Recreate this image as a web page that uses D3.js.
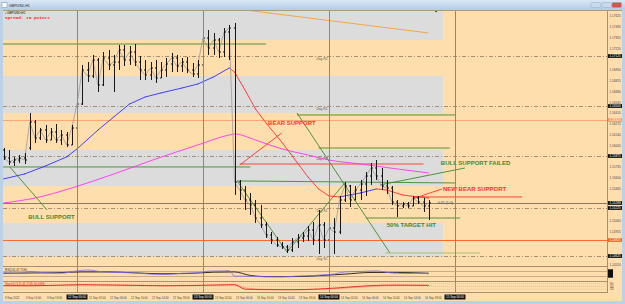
<!DOCTYPE html>
<html>
<head>
<meta charset="utf-8">
<script src="https://cdn.jsdelivr.net/npm/d3@7"></script>
<style>
  body { margin: 0; background: #FFDEAD; overflow: hidden; }
  svg { display: block; font-family: "Liberation Sans", Arial, sans-serif; }
</style>
</head>
<body>
<svg width="625" height="304"></svg>
<script>
// GBPUSD H1 bars, one per hour
const opens = [
  1.15950, 1.15850, 1.15800, 1.15825, 1.15850, 1.15975, 1.16300, 1.16100, 1.16200, 1.16075,
  1.16175, 1.16075, 1.16138, 1.16013, 1.16225, 1.16525, 1.16950, 1.16875, 1.17075, 1.16763,
  1.17100, 1.17013, 1.17050, 1.17200, 1.17075, 1.17175, 1.17050, 1.16950, 1.16888, 1.16975,
  1.16850, 1.16950, 1.17025, 1.17100, 1.17000, 1.17050, 1.16950, 1.16900, 1.17013, 1.17350,
  1.17225, 1.17325, 1.17175, 1.17425, 1.17475, 1.15550, 1.15450, 1.15325, 1.15263, 1.15100,
  1.15013, 1.14888, 1.14825, 1.14763, 1.14738, 1.14700, 1.14800, 1.14850, 1.14875, 1.14950,
  1.14825, 1.15013, 1.14825, 1.14975, 1.14925, 1.15325, 1.15500, 1.15325, 1.15450, 1.15525,
  1.15625, 1.15725, 1.15625, 1.15500, 1.15475, 1.15300, 1.15250, 1.15275, 1.15250, 1.15350,
  1.15300, 1.15250
];
const highs = [
  1.15975, 1.15950, 1.15863, 1.15888, 1.15913, 1.16413, 1.16325, 1.16225, 1.16263, 1.16225,
  1.16275, 1.16200, 1.16175, 1.16263, 1.16575, 1.17013, 1.17050, 1.17138, 1.17100, 1.17175,
  1.17200, 1.17138, 1.17263, 1.17263, 1.17250, 1.17275, 1.17125, 1.17075, 1.17050, 1.17075,
  1.17050, 1.17100, 1.17163, 1.17138, 1.17100, 1.17113, 1.17038, 1.17075, 1.17413, 1.17450,
  1.17413, 1.17350, 1.17475, 1.17513, 1.17538, 1.15575, 1.15500, 1.15413, 1.15325, 1.15263,
  1.15050, 1.14925, 1.14863, 1.14800, 1.14763, 1.14850, 1.14900, 1.14925, 1.15000, 1.15050,
  1.15200, 1.15050, 1.15075, 1.15100, 1.15375, 1.15550, 1.15513, 1.15500, 1.15575, 1.15675,
  1.15788, 1.15825, 1.15725, 1.15575, 1.15500, 1.15325, 1.15300, 1.15300, 1.15375, 1.15375,
  1.15350, 1.15325
];
const lows = [
  1.15825, 1.15763, 1.15750, 1.15788, 1.15775, 1.15950, 1.16038, 1.16075, 1.16038, 1.16075,
  1.16038, 1.16013, 1.15988, 1.16013, 1.16075, 1.16513, 1.16800, 1.16850, 1.16675, 1.16750,
  1.16950, 1.16675, 1.16950, 1.17000, 1.17013, 1.17000, 1.16825, 1.16825, 1.16825, 1.16788,
  1.16850, 1.16863, 1.16925, 1.16925, 1.16925, 1.16913, 1.16863, 1.16850, 1.16925, 1.17138,
  1.17138, 1.17100, 1.17113, 1.17075, 1.15388, 1.15325, 1.15200, 1.15138, 1.15038, 1.14975,
  1.14850, 1.14775, 1.14738, 1.14713, 1.14663, 1.14675, 1.14725, 1.14800, 1.14813, 1.14763,
  1.14650, 1.14725, 1.14700, 1.14650, 1.14900, 1.15300, 1.15238, 1.15325, 1.15325, 1.15375,
  1.15513, 1.15575, 1.15450, 1.15400, 1.15263, 1.15113, 1.15225, 1.15225, 1.15250, 1.15275,
  1.15175, 1.15075
];
const closes = [
  1.15850, 1.15800, 1.15825, 1.15850, 1.15825, 1.16300, 1.16100, 1.16200, 1.16075, 1.16175,
  1.16075, 1.16138, 1.16013, 1.16225, 1.16525, 1.16950, 1.16875, 1.17075, 1.16763, 1.17100,
  1.17013, 1.17050, 1.17200, 1.17075, 1.17175, 1.17050, 1.16950, 1.16888, 1.16975, 1.16850,
  1.16950, 1.17025, 1.17100, 1.17000, 1.17050, 1.16950, 1.16900, 1.17013, 1.17350, 1.17225,
  1.17325, 1.17175, 1.17425, 1.17475, 1.15550, 1.15450, 1.15325, 1.15263, 1.15100, 1.15013,
  1.14888, 1.14825, 1.14763, 1.14738, 1.14700, 1.14800, 1.14850, 1.14875, 1.14950, 1.14825,
  1.15013, 1.14825, 1.14975, 1.14925, 1.15325, 1.15500, 1.15325, 1.15450, 1.15525, 1.15625,
  1.15725, 1.15625, 1.15500, 1.15475, 1.15300, 1.15250, 1.15275, 1.15250, 1.15350, 1.15300,
  1.15250, 1.15288
];

// moving averages (bar index, price)
const maFastIdx = [0, 4, 8, 12, 14, 18, 21, 24, 27, 30, 34, 37, 40, 43, 44, 46, 48, 50, 53, 56, 58, 60, 62, 64, 66, 68, 71, 73, 76, 79, 81];
const maFastVal = [1.15588, 1.15650, 1.15750, 1.15863, 1.15963, 1.16200, 1.16363, 1.16525, 1.16613, 1.16663, 1.16725, 1.16775, 1.16863, 1.16975, 1.16925, 1.16700, 1.16463, 1.16288, 1.16050, 1.15788, 1.15613, 1.15463, 1.15375, 1.15363, 1.15388, 1.15413, 1.15463, 1.15450, 1.15388, 1.15363, 1.15350];
const maSlowIdx = [0, 6, 13, 21, 29, 37, 43, 44, 48, 53, 58, 62, 68, 75, 81];
const maSlowVal = [1.15288, 1.15350, 1.15475, 1.15650, 1.15838, 1.16013, 1.16138, 1.16150, 1.16075, 1.15963, 1.15888, 1.15825, 1.15775, 1.15713, 1.15663];

// grey price zones
const zoneTops = [1.17750, 1.16875, 1.15950, 1.15038];
const zoneBottoms = [1.17325, 1.16413, 1.15500, 1.14613];
const zoneEndIdx = 83.7;

// daily pivots
const pivotNames = ['Day R2', 'Day R1', 'Day PP', 'Day S1', 'Day S2'];
const pivotPrices = [1.17125, 1.16500, 1.15875, 1.15225, 1.14625];
const orangeLevels = [1.16325, 1.14825];

// drawn objects: [startIdx, startPrice, endIdx, endPrice, kind]
const trendLines = [
  [46.0, 1.17700, 80.9, 1.17413, 'trend'],
  [-1, 1.17275, 50.0, 1.17275, 'bull'],
  [-1, 1.15738, 47.0, 1.15738, 'bull'],
  [1.2, 1.15738, 8.3, 1.15200, 'bull'],
  [55.9, 1.16413, 73.6, 1.14663, 'bull'],
  [44.5, 1.15563, 54.0, 1.14675, 'bull'],
  [54.0, 1.14675, 65.0, 1.15538, 'bull'],
  [44.5, 1.15563, 86.0, 1.15538, 'bull'],
  [55.9, 1.16388, 86.0, 1.16388, 'bull'],
  [60.0, 1.15975, 85.0, 1.15975, 'bull'],
  [71.7, 1.15513, 87.9, 1.15725, 'bull'],
  [69.0, 1.15100, 87.0, 1.15100, 'bull'],
  [72.7, 1.14663, 90.8, 1.14663, 'target'],
  [45.0, 1.15763, 53.0, 1.16163, 'bear'],
  [45.0, 1.15775, 80.0, 1.15775, 'bear'],
  [78.4, 1.15350, 83.5, 1.15463, 'bear'],
  [78.0, 1.15363, 98.8, 1.15363, 'bear']
];
const noteTexts = ['BULL SUPPORT', 'BEAR SUPPORT', 'BULL SUPPORT FAILED', 'NEW BEAR SUPPORT', '50% TARGET HIT'];
const noteIdx = [4.7, 50.4, 83.3, 83.7, 73.0];
const notePrices = [1.15088, 1.16263, 1.15763, 1.15438, 1.14988];
const noteKinds = ['bull', 'bear', 'bull', 'bear', 'bull'];

const vLineIdx = [14, 38, 62, 86];
const vLineText = ['12 Sep 00:00', '13 Sep 00:00', '14 Sep 00:00', '15 Sep 00:00'];

// lower windows
const rsiIdx = [0, 3, 5, 8, 11, 14, 16, 19, 22, 25, 28, 31, 34, 37, 39, 42, 43, 44, 47, 50, 53, 56, 59, 61, 63, 65, 68, 71, 74, 77, 79, 81];
const rsiVal = [56, 50, 66, 55, 52, 70, 77, 62, 58, 55, 45, 42, 52, 55, 68, 70, 72, 30, 28, 25, 24, 30, 34, 40, 46, 62, 66, 70, 54, 50, 52, 48];
const sigIdx = [0, 5, 10, 15, 20, 25, 30, 35, 40, 44, 47, 50, 55, 60, 65, 70, 75, 81];
const sigVal = [52, 54, 56, 62, 62, 55, 48, 50, 60, 62, 35, 26, 26, 33, 45, 58, 58, 52];
const stochIdx = [0, 5, 10, 15, 20, 25, 30, 35, 40, 44, 46, 50, 55, 60, 65, 70, 75, 81];
const stochMain = [60, 58, 64, 70, 66, 62, 58, 60, 66, 70, 20, 15, 14, 22, 40, 60, 66, 62];
const stochSignal = [58, 60, 62, 66, 68, 64, 60, 60, 63, 68, 35, 18, 15, 18, 32, 50, 62, 64];

const priceTicks = [1.17625, 1.17490, 1.17355, 1.17220, 1.17085, 1.16950, 1.16815, 1.16680, 1.16545, 1.16410, 1.16275, 1.16140,
  1.16005, 1.15870, 1.15735, 1.15600, 1.15465, 1.15330, 1.15195, 1.15060, 1.14925, 1.14790, 1.14655, 1.14520];
const timeTickIdx = [0, 4, 8, 16, 20, 24, 28, 32, 40, 44, 48, 52, 56, 64, 68, 72, 76, 80];
const timeTickText = ['9 Sep 2022', '9 Sep 14:00', '9 Sep 18:00', '12 Sep 02:00', '12 Sep 06:00', '12 Sep 10:00', '12 Sep 14:00',
  '12 Sep 18:00', '13 Sep 02:00', '13 Sep 06:00', '13 Sep 10:00', '13 Sep 14:00', '13 Sep 18:00', '14 Sep 02:00',
  '14 Sep 06:00', '14 Sep 10:00', '14 Sep 14:00', '14 Sep 18:00'];

const svg = d3.select('svg');
const colors = { bull: '#3f8a2c', bear: '#ff3326', target: '#9bbf6a', trend: '#f5a030' };

const x = d3.scaleLinear().domain([0, 115]).range([3.5, 607.25]);
const y = d3.scaleLinear().domain([1.1450, 1.1770]).range([266, 10]);
const yRsi = d3.scaleLinear().domain([0, 100]).range([280, 267]);
const yStoch = d3.scaleLinear().domain([0, 100]).range([291, 282]);

svg.append('rect').attr('width', 625).attr('height', 304).attr('fill', '#FFDEAD');

svg.append('clipPath').attr('id', 'main')
  .append('rect').attr('x', 3).attr('y', 10).attr('width', 604).attr('height', 256);
const main = svg.append('g').attr('clip-path', 'url(#main)');

// zones
main.selectAll('.zone').data(zoneTops).join('rect')
  .attr('x', 3).attr('width', x(zoneEndIdx) - 3)
  .attr('y', d => y(d))
  .attr('height', (d, i) => y(zoneBottoms[i]) - y(d))
  .attr('fill', '#DCDCDC');

// horizontal levels
main.selectAll('.pivot').data(pivotPrices).join('line')
  .attr('x1', 3).attr('x2', 607)
  .attr('y1', d => Math.round(y(d)) + 0.5).attr('y2', d => Math.round(y(d)) + 0.5)
  .attr('stroke', '#a88f72').attr('stroke-dasharray', '4,2,1,2');
main.selectAll('.plab').data(pivotNames).join('text')
  .attr('x', x(59.6)).attr('y', (d, i) => y(pivotPrices[i]) + 3.5)
  .attr('font-size', 3.4).attr('fill', '#555').text(d => d);
main.selectAll('.orl').data(orangeLevels).join('line')
  .attr('x1', 3).attr('x2', 607)
  .attr('y1', d => Math.round(y(d)) + 0.5).attr('y2', d => Math.round(y(d)) + 0.5)
  .attr('stroke', (d, i) => i === 0 ? '#ffa474' : '#ff6a2a');
const bid = closes[closes.length - 1];
main.append('line').attr('x1', 3).attr('x2', 607)
  .attr('y1', Math.round(y(bid)) + 0.5).attr('y2', Math.round(y(bid)) + 0.5)
  .attr('stroke', '#8c7a62');

// vertical lines through all windows
svg.selectAll('.vl').data(vLineIdx).join('line')
  .attr('x1', d => Math.round(x(d)) + 0.5).attr('x2', d => Math.round(x(d)) + 0.5)
  .attr('y1', 10).attr('y2', 292).attr('stroke', '#888');

// trend lines
main.selectAll('.tl').data(trendLines).join('line')
  .attr('x1', d => x(d[0])).attr('y1', d => y(d[1]))
  .attr('x2', d => x(d[2])).attr('y2', d => y(d[3]))
  .attr('stroke', d => colors[d[4]]).attr('stroke-width', 0.9);

// moving averages
const maLine = d3.line().x(d => x(d[0])).y(d => y(d[1])).curve(d3.curveMonotoneX);
main.append('path').datum(maSlowIdx.map((d, i) => [d, maSlowVal[i]]))
  .attr('d', maLine).attr('fill', 'none').attr('stroke', '#ff33ee').attr('stroke-width', 0.9);
for (let k = 0; k < maFastIdx.length - 1; k++) {
  const up = maFastVal[k + 1] >= maFastVal[k];
  main.append('line')
    .attr('x1', x(maFastIdx[k])).attr('y1', y(maFastVal[k]))
    .attr('x2', x(maFastIdx[k + 1])).attr('y2', y(maFastVal[k + 1]))
    .attr('stroke', up ? '#3030ff' : '#ff3030').attr('stroke-width', 0.9)
    .attr('stroke-linecap', 'round');
}

// close line and OHLC bars
main.append('path').datum(closes)
  .attr('d', d3.line().x((d, i) => x(i)).y(d => y(d)))
  .attr('fill', 'none').attr('stroke', '#9a9a9a').attr('stroke-width', 0.8);
const bars = main.append('g').attr('stroke', '#000').attr('stroke-width', 0.9);
closes.forEach((c, i) => {
  const cx = Math.round(x(i)) + 0.5;
  bars.append('line').attr('x1', cx).attr('x2', cx).attr('y1', y(highs[i])).attr('y2', y(lows[i]));
  bars.append('line').attr('x1', cx - 1.5).attr('x2', cx).attr('y1', y(opens[i])).attr('y2', y(opens[i]));
  bars.append('line').attr('x1', cx).attr('x2', cx + 1.5).attr('y1', y(c)).attr('y2', y(c));
});

// notes
main.selectAll('.note').data(noteTexts).join('text')
  .attr('x', (d, i) => x(noteIdx[i])).attr('y', (d, i) => y(notePrices[i]))
  .attr('font-size', 6).attr('font-weight', 'bold')
  .attr('fill', (d, i) => colors[noteKinds[i]]).text(d => d);
main.append('text').attr('x', x(82.7)).attr('y', y(bid) + 1.3)
  .attr('font-size', 3.6).attr('fill', '#444').text('0:31 (1:0)');
main.append('path').attr('d', `M${x(82.4) - 1.5},10.5 h3 l-1.5,2z`).attr('fill', '#222');

// top-left info
svg.append('text').attr('x', 5).attr('y', 14.2).attr('font-size', 3.2).attr('fill', '#000').text('▪ GBPUSD,H1');
svg.append('text').attr('x', 5).attr('y', 18.8).attr('font-size', 4.4).attr('font-weight', 'bold')
  .attr('font-family', 'Liberation Mono, monospace').attr('fill', '#ff2a2a').text('Spread: 16 points');

// window separators and axis line
[266.5, 281.5, 292.5].forEach(v => svg.append('line').attr('x1', 3).attr('x2', 607).attr('y1', v).attr('y2', v).attr('stroke', '#a8906e'));
svg.append('line').attr('x1', 607.5).attr('x2', 607.5).attr('y1', 10).attr('y2', 293).attr('stroke', '#a8906e');

// RSI window
[70, 30].forEach(v => svg.append('line').attr('x1', 3).attr('x2', 607)
  .attr('y1', Math.round(yRsi(v)) + 0.5).attr('y2', Math.round(yRsi(v)) + 0.5).attr('stroke', '#b49a78').attr('stroke-width', 0.7));
const rsiLine = d3.line().x(d => x(d[0])).y(d => yRsi(d[1])).curve(d3.curveMonotoneX);
svg.append('path').datum(sigIdx.map((d, i) => [d, sigVal[i]])).attr('d', rsiLine)
  .attr('fill', 'none').attr('stroke', '#000').attr('stroke-width', 0.8);
svg.append('path').datum(rsiIdx.map((d, i) => [d, rsiVal[i]])).attr('d', rsiLine)
  .attr('fill', 'none').attr('stroke', '#7b6cf0').attr('stroke-width', 0.8);
svg.append('text').attr('x', 5).attr('y', 270.5).attr('font-size', 3).attr('fill', '#333').text('RSI(14) 47.7590');

// Stochastic window
[80, 50, 20].forEach(v => svg.append('line').attr('x1', 3).attr('x2', 607)
  .attr('y1', yStoch(v)).attr('y2', yStoch(v)).attr('stroke', '#c8b090').attr('stroke-width', 0.5).attr('stroke-dasharray', '1,1'));
const stLine = d3.line().x(d => x(d[0])).y(d => yStoch(d[1])).curve(d3.curveMonotoneX);
svg.append('path').datum(stochIdx.map((d, i) => [d, stochSignal[i]])).attr('d', stLine)
  .attr('fill', 'none').attr('stroke', '#ff8a7a').attr('stroke-width', 0.8);
svg.append('path').datum(stochIdx.map((d, i) => [d, stochMain[i]])).attr('d', stLine)
  .attr('fill', 'none').attr('stroke', '#e01010').attr('stroke-width', 0.8);
svg.append('text').attr('x', 5).attr('y', 285).attr('font-size', 3).attr('fill', '#e02020').text('Stoch(5,3,3) 41.7145 40.0496');
['80', '50', '20'].forEach(t => svg.append('text').attr('x', 610).attr('y', yStoch(+t) + 1).attr('font-size', 3).attr('fill', '#444').text(t));
[70, 50, 30].forEach(v => {
  svg.append('rect').attr('x', 608).attr('y', yRsi(v) - 1.6).attr('width', 5).attr('height', 3.2).attr('fill', '#111');
});

// price axis: plain labels are skipped where a level box sits
const boxLevels = pivotPrices.concat([bid]);
const allBoxes = boxLevels.concat(orangeLevels);
svg.selectAll('.pt').data(priceTicks.filter(p => allBoxes.every(b => Math.abs(y(p) - y(b)) > 3.6))).join('text')
  .attr('x', 609.5).attr('y', d => y(d) + 1.1).attr('font-size', 3.1).attr('fill', '#444')
  .text(d => d.toFixed(5));
svg.selectAll('.pb').data(boxLevels).join('g').each(function (d) {
  const g = d3.select(this);
  g.append('rect').attr('x', 608).attr('y', y(d) - 1.9).attr('width', 14).attr('height', 3.8).attr('fill', '#111');
  g.append('text').attr('x', 609.5).attr('y', y(d) + 1.1).attr('font-size', 3.1).attr('fill', '#fff').text(d.toFixed(5));
});
svg.selectAll('.ob').data(orangeLevels).join('g').each(function (d, i) {
  const g = d3.select(this);
  g.append('rect').attr('x', 608).attr('y', y(d) - 1.9).attr('width', 14).attr('height', 3.8).attr('fill', i === 0 ? '#ff9a66' : '#ff6020');
  g.append('text').attr('x', 609.5).attr('y', y(d) + 1.1).attr('font-size', 3.1).attr('fill', '#fff').text(d.toFixed(5));
});

// time axis
svg.selectAll('.tt').data(timeTickIdx).join('text')
  .attr('x', d => x(d) + 1.5).attr('y', 298.5).attr('font-size', 2.8).attr('fill', '#444')
  .text((d, i) => timeTickText[i]);
svg.selectAll('.tb').data(vLineIdx).join('g').each(function (d, i) {
  const g = d3.select(this);
  g.append('rect').attr('x', x(d) - 10.5).attr('y', 294.5).attr('width', 21).attr('height', 5).attr('fill', '#111');
  g.append('text').attr('x', x(d)).attr('y', 298.4).attr('text-anchor', 'middle').attr('font-size', 3).attr('fill', '#fff').text(vLineText[i]);
});

// window frame and title bar
const grad = svg.append('defs').append('linearGradient').attr('id', 'tb').attr('x1', 0).attr('x2', 0).attr('y1', 0).attr('y2', 1);
grad.append('stop').attr('offset', 0).attr('stop-color', '#dbe7f5');
grad.append('stop').attr('offset', 1).attr('stop-color', '#b4cbe6');
svg.append('rect').attr('width', 625).attr('height', 10).attr('fill', 'url(#tb)');
svg.append('line').attr('x1', 0).attr('x2', 625).attr('y1', 10.5).attr('y2', 10.5).attr('stroke', '#b09a7c');
svg.append('rect').attr('x', 2).attr('y', 2.5).attr('width', 5).attr('height', 5).attr('fill', '#fff').attr('stroke', '#6a8ab0').attr('stroke-width', 0.5);
svg.append('text').attr('x', 9).attr('y', 6.6).attr('font-size', 3.6).attr('fill', '#223').text('GBPUSD,H1');
[[591, '#c9d9ec'], [602, '#c9d9ec'], [612, '#d0574a']].forEach(([bx, c]) => {
  svg.append('rect').attr('x', bx).attr('y', 2.5).attr('width', 9.5).attr('height', 5).attr('rx', 1)
    .attr('fill', c).attr('stroke', '#8aa2c0').attr('stroke-width', 0.4);
});
svg.append('rect').attr('x', 0).attr('y', 10).attr('width', 3).attr('height', 294).attr('fill', '#bcd0e8');
svg.append('rect').attr('x', 622).attr('y', 10).attr('width', 3).attr('height', 294).attr('fill', '#bcd0e8');
svg.append('rect').attr('x', 0).attr('y', 301).attr('width', 625).attr('height', 3).attr('fill', '#bcd0e8');
</script>
</body>
</html>
